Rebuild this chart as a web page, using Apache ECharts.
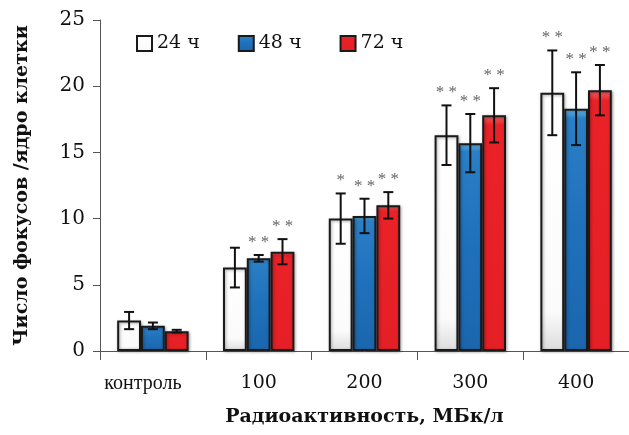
<!DOCTYPE html>
<html><head><meta charset="utf-8">
<script src="https://cdn.jsdelivr.net/npm/echarts@6/dist/echarts.min.js"></script>
<style>html,body{margin:0;padding:0;background:#fff}#c{width:629px;height:435px}</style>
</head><body><div id="c"></div>
<script>
const categories = ['контроль', '100', '200', '300', '400'];
const seriesNames = ['24 ч', '48 ч', '72 ч'];
const values24 = [2.3, 6.3, 10.0, 16.3, 19.5];
const values48 = [1.9, 7.0, 10.2, 15.7, 18.3];
const values72 = [1.5, 7.5, 11.0, 17.8, 19.7];
const err24 = [0.65, 1.5, 1.9, 2.25, 3.2];
const err48 = [0.25, 0.25, 1.3, 2.2, 2.75];
const err72 = [0.1, 0.95, 1.0, 2.05, 1.9];
const marks24 = ['', '', '*', '**', '**'];
const marks48 = ['', '**', '**', '**', '**'];
const marks72 = ['', '**', '**', '**', '**'];
const yTicks = [0, 5, 10, 15, 20, 25];

const SERIF = '"Liberation Serif", serif';
const WIDE = '"DejaVu Serif", serif';
const allVals = [values24, values48, values72];
const allErr = [err24, err48, err72];
const allMarks = [marks24, marks48, marks72];
const GAP = 0.325;

const fills = [
  {type:'linear',x:0,y:0,x2:0,y2:1,colorStops:[{offset:0,color:'#ffffff'},{offset:0.85,color:'#fbfbfb'},{offset:1,color:'#dcdcdc'}]},
  {type:'linear',x:0,y:0,x2:0,y2:1,colorStops:[{offset:0,color:'#6cc0ee'},{offset:0.04,color:'#2a7fc6'},{offset:0.5,color:'#1f70bb'},{offset:1,color:'#1b66ad'}]},
  {type:'linear',x:0,y:0,x2:0,y2:1,colorStops:[{offset:0,color:'#f06a6a'},{offset:0.04,color:'#ea2228'},{offset:1,color:'#e51f26'}]}
];

const barSeries = seriesNames.map((n, i) => ({
  name: n, type: 'bar', data: allVals[i], barGap: '0%', barCategoryGap: (GAP*100)+'%',
  itemStyle: {color: fills[i], borderColor: '#1a1a1a', borderWidth: 2,
    shadowBlur: 3, shadowColor: 'rgba(0,0,0,0.35)', shadowOffsetX: 1, shadowOffsetY: 1},
  z: 2
}));

const errSeries = seriesNames.map((n, i) => ({
  type: 'custom', z: 5,
  data: allVals[i].map((v, k) => [k, v, allErr[i][k]]),
  renderItem: function(params, api) {
    const k = api.value(0), v = api.value(1), e = api.value(2);
    const mark = allMarks[i][k];
    const cw = api.size([1, 0])[0];
    const bw = cw * (1 - GAP) / 3;
    const c = api.coord([k, v]);
    const x = c[0] + (i - 1) * bw;
    const top = api.coord([k, v + e])[1];
    const bot = api.coord([k, v - e])[1];
    const cap = 5;
    const st = {stroke: '#111', lineWidth: 2};
    const children = [
      {type:'line', shape:{x1:x, y1:top, x2:x, y2:bot}, style:st},
      {type:'line', shape:{x1:x-cap, y1:top, x2:x+cap, y2:top}, style:st},
      {type:'line', shape:{x1:x-cap, y1:bot, x2:x+cap, y2:bot}, style:st}
    ];
    if (mark) {
      children.push({type:'text', style:{text: mark.split('').join(' '), x: x, y: top - 4,
        align:'center', verticalAlign:'bottom', fill:'#666', font: '17px ' + SERIF}});
    }
    return {type:'group', children: children};
  }
}));

const chart = echarts.init(document.getElementById('c'));
chart.setOption({
  animation: false,
  backgroundColor: '#fff',
  grid: {left: 100, top: 20, width: 533, bottom: 84},
  legend: {
    top: 29, left: 131, itemWidth: 15, itemHeight: 15, itemGap: 38, icon: 'rect',
    data: seriesNames,
    textStyle: {fontFamily: WIDE, fontSize: 19, color: '#111'}
  },
  xAxis: {
    type: 'category', data: categories,
    axisLine: {lineStyle: {color: '#555', width: 1}},
    axisTick: {show: true, length: 9, inside: false, lineStyle: {color: '#555'}},
    axisLabel: {
      color: '#111', margin: 23,
      formatter: v => /^\d+$/.test(v) ? '{d|' + v + '}' : '{t|' + v + '}',
      rich: {
        d: {fontFamily: WIDE, fontSize: 19, color: '#111'},
        t: {fontFamily: SERIF, fontSize: 20, color: '#111', padding: [0, 20, 2, 0]}
      }
    },
    name: 'Радиоактивность, МБк/л', nameLocation: 'middle', nameGap: 57,
    nameTextStyle: {fontFamily: WIDE, fontSize: 19, fontWeight: 'bold', color: '#111'}
  },
  yAxis: {
    type: 'value', min: 0, max: 25, interval: 5,
    axisLine: {show: true, lineStyle: {color: '#555', width: 1}},
    axisTick: {show: true, length: 7, lineStyle: {color: '#555'}},
    splitLine: {show: false},
    axisLabel: {fontFamily: WIDE, fontSize: 20, color: '#111', margin: 15},
    name: 'Число фокусов /ядро клетки', nameLocation: 'middle', nameGap: 68, nameRotate: 90,
    nameTextStyle: {fontFamily: WIDE, fontSize: 19, fontWeight: 'bold', color: '#111'}
  },
  series: barSeries.concat(errSeries)
});
</script></body></html>
